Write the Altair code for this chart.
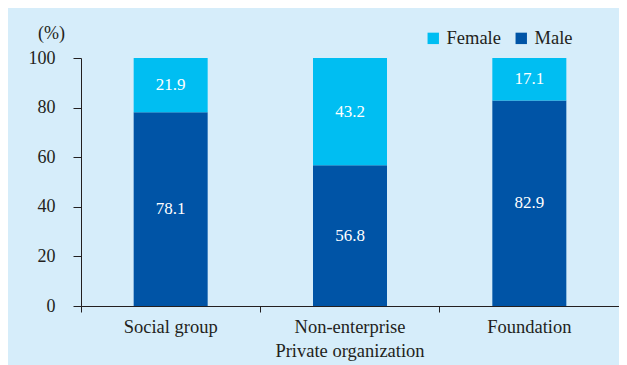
import altair as alt
import pandas as pd

categories = ["Social group", "Non-enterprise Private organization", "Foundation"]
male = [78.1, 56.8, 82.9]
female = [21.9, 43.2, 17.1]
series = ["Female", "Male"]
colors = ["#00BEF2", "#0054A6"]
y_ticks = [0, 20, 40, 60, 80, 100]

rows = []
for c, m, f in zip(categories, male, female):
    rows.append({"cat": c, "sex": "Male", "value": m, "ord": 0})
    rows.append({"cat": c, "sex": "Female", "value": f, "ord": 1})
df = pd.DataFrame(rows)

font = "'Times New Roman', 'Liberation Serif', serif"
ink = "#231F20"

x = alt.X(
    "cat:N",
    sort=categories,
    scale=alt.Scale(paddingInner=0, paddingOuter=0),
    axis=alt.Axis(
        title=None, bandPosition=0, labelAngle=0, tickSize=6, labelPadding=5,
        labelFontSize=18.5, labelLineHeight=24, labelFont=font, labelColor=ink,
        domainColor=ink, tickColor=ink, labelBaseline="top",
        labelExpr="datum.label == 'Non-enterprise Private organization' ? ['Non-enterprise', 'Private organization'] : datum.label",
    ),
)

yscale = alt.Scale(domain=[0, 100])

bars = alt.Chart(df).mark_bar(width=74).encode(
    x=x,
    y=alt.Y(
        "value:Q", stack="zero", scale=yscale,
        axis=alt.Axis(
            values=y_ticks, grid=False, tickSize=8, labelPadding=18,
            labelFontSize=18, labelFont=font, labelColor=ink,
            domainColor=ink, tickColor=ink,
            title="(%)", titleAngle=0, titleX=-30, titleY=-25,
            titleAlign="center", titleBaseline="middle", titleFontSize=18,
            titleFont=font, titleFontWeight="normal", titleColor=ink,
        ),
    ),
    color=alt.Color(
        "sex:N",
        scale=alt.Scale(domain=series, range=colors),
        legend=alt.Legend(
            title=None, orient="none", legendX=343, legendY=-29,
            direction="horizontal", symbolType="square", symbolSize=130,
            symbolStrokeWidth=0, labelFontSize=18.5, labelFont=font,
            labelColor=ink, columnPadding=11, labelOffset=4,
        ),
    ),
    order=alt.Order("ord:Q"),
)

labels = alt.Chart(df).transform_stack(
    stack="value", groupby=["cat"], as_=["y0", "y1"],
    sort=[alt.SortField("ord", order="ascending")],
).transform_calculate(
    mid="(datum.y0 + datum.y1) / 2"
).mark_text(font=font, fontSize=17, color="white").encode(
    x=x,
    y=alt.Y("mid:Q", scale=yscale),
    text=alt.Text("value:Q", format=".1f"),
)

chart = alt.layer(bars, labels).properties(
    width=538, height=248, background="#D6EDFA",
    autosize=alt.AutoSizeParams(type="none"),
    padding={"left": 73, "top": 50, "right": 0, "bottom": 59},
).configure_view(stroke=None)

chart.save("out.html", embed_options={"renderer": "svg", "actions": False})
